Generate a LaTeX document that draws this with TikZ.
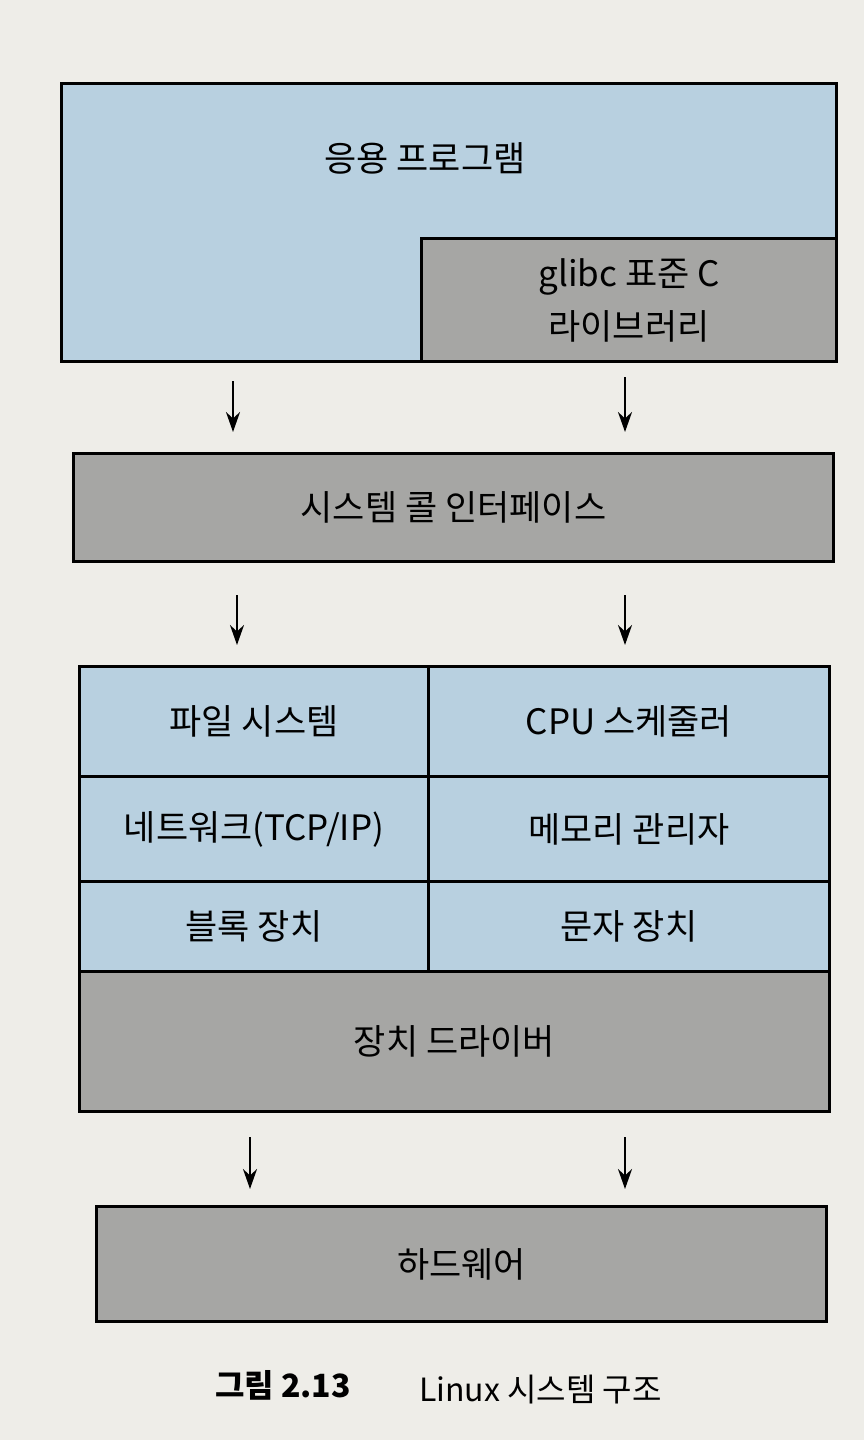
\documentclass[tikz,border=0pt]{standalone}
\usepackage{fontspec}
\setmainfont{Noto Sans CJK KR}
\usetikzlibrary{arrows.meta}

\definecolor{layerblue}{RGB}{184,208,224}
\definecolor{layergray}{RGB}{166,166,164}
\definecolor{paper}{RGB}{238,237,232}

\tikzset{
  layer/.style={draw=black, line width=1.5pt, anchor=north west, inner sep=0pt,
    align=center, font=\fontsize{17.5}{26.5}\selectfont},
  bluelayer/.style={layer, fill=layerblue},
  graylayer/.style={layer, fill=layergray},
  flow/.style={-{Stealth[length=10pt,width=7pt]}, line width=1.2pt},
}

\begin{document}
\begin{tikzpicture}[x=0.5pt,y=-0.5pt]
  % page
  \fill[paper] (0,0) rectangle (864,1440);
  \useasboundingbox (0,0) rectangle (864,1440);

  % user space
  \node[bluelayer, minimum width=387.5pt, minimum height=139pt] (app) at (60,82) {};
  \node[font=\fontsize{17.5}{20}\selectfont] (applbl) at (425,158) {응용 프로그램};
  \node[graylayer, minimum width=207.5pt, minimum height=61.5pt] (glibc) at (420,237) {glibc 표준 C\\라이브러리};

  % system call interface
  \node[graylayer, minimum width=380pt, minimum height=54pt] (syscall) at (72,452) {시스템 콜 인터페이스};

  % kernel
  \node[bluelayer, minimum width=174.5pt, minimum height=55pt] (fs) at (78,665) {파일 시스템};
  \node[bluelayer, minimum width=200.5pt, minimum height=55pt] (cpu) at (427,665) {CPU 스케줄러};
  \node[bluelayer, minimum width=174.5pt, minimum height=52.5pt] (net) at (78,775) {네트워크(TCP/IP)};
  \node[bluelayer, minimum width=200.5pt, minimum height=52.5pt] (mem) at (427,775) {메모리 관리자};
  \node[bluelayer, minimum width=174.5pt, minimum height=45pt] (blk) at (78,880) {블록 장치};
  \node[bluelayer, minimum width=200.5pt, minimum height=45pt] (chr) at (427,880) {문자 장치};
  \node[graylayer, minimum width=375pt, minimum height=70pt] (drv) at (78,970) {장치 드라이버};

  % hardware
  \node[graylayer, minimum width=365pt, minimum height=57.5pt] (hw) at (95,1205) {하드웨어};

  % arrows
  \coordinate (lx1) at (233,0);
  \coordinate (lx2) at (237,0);
  \coordinate (lx3) at (250,0);
  \coordinate (rx) at (625,0);
  \draw[flow] ([yshift=-9pt]app.south -| lx1) -- ([yshift=10pt]syscall.north -| lx1);
  \draw[flow] ([yshift=-7pt]glibc.south -| rx) -- ([yshift=10pt]syscall.north -| rx);
  \draw[flow] ([yshift=-16pt]syscall.south -| lx2) -- ([yshift=10pt]fs.north -| lx2);
  \draw[flow] ([yshift=-16pt]syscall.south -| rx) -- ([yshift=10pt]cpu.north -| rx);
  \draw[flow] ([yshift=-12pt]drv.south -| lx3) -- ([yshift=8pt]hw.north -| lx3);
  \draw[flow] ([yshift=-12pt]drv.south -| rx) -- ([yshift=8pt]hw.north -| rx);

  % caption
  \node[font=\fontsize{16}{18}\selectfont\bfseries] (capnum) at (283,1385) {그림 2.13};
  \node[font=\fontsize{16}{18}\selectfont, anchor=west] (captxt) at (412,1390) {Linux 시스템 구조};
\end{tikzpicture}
\end{document}
